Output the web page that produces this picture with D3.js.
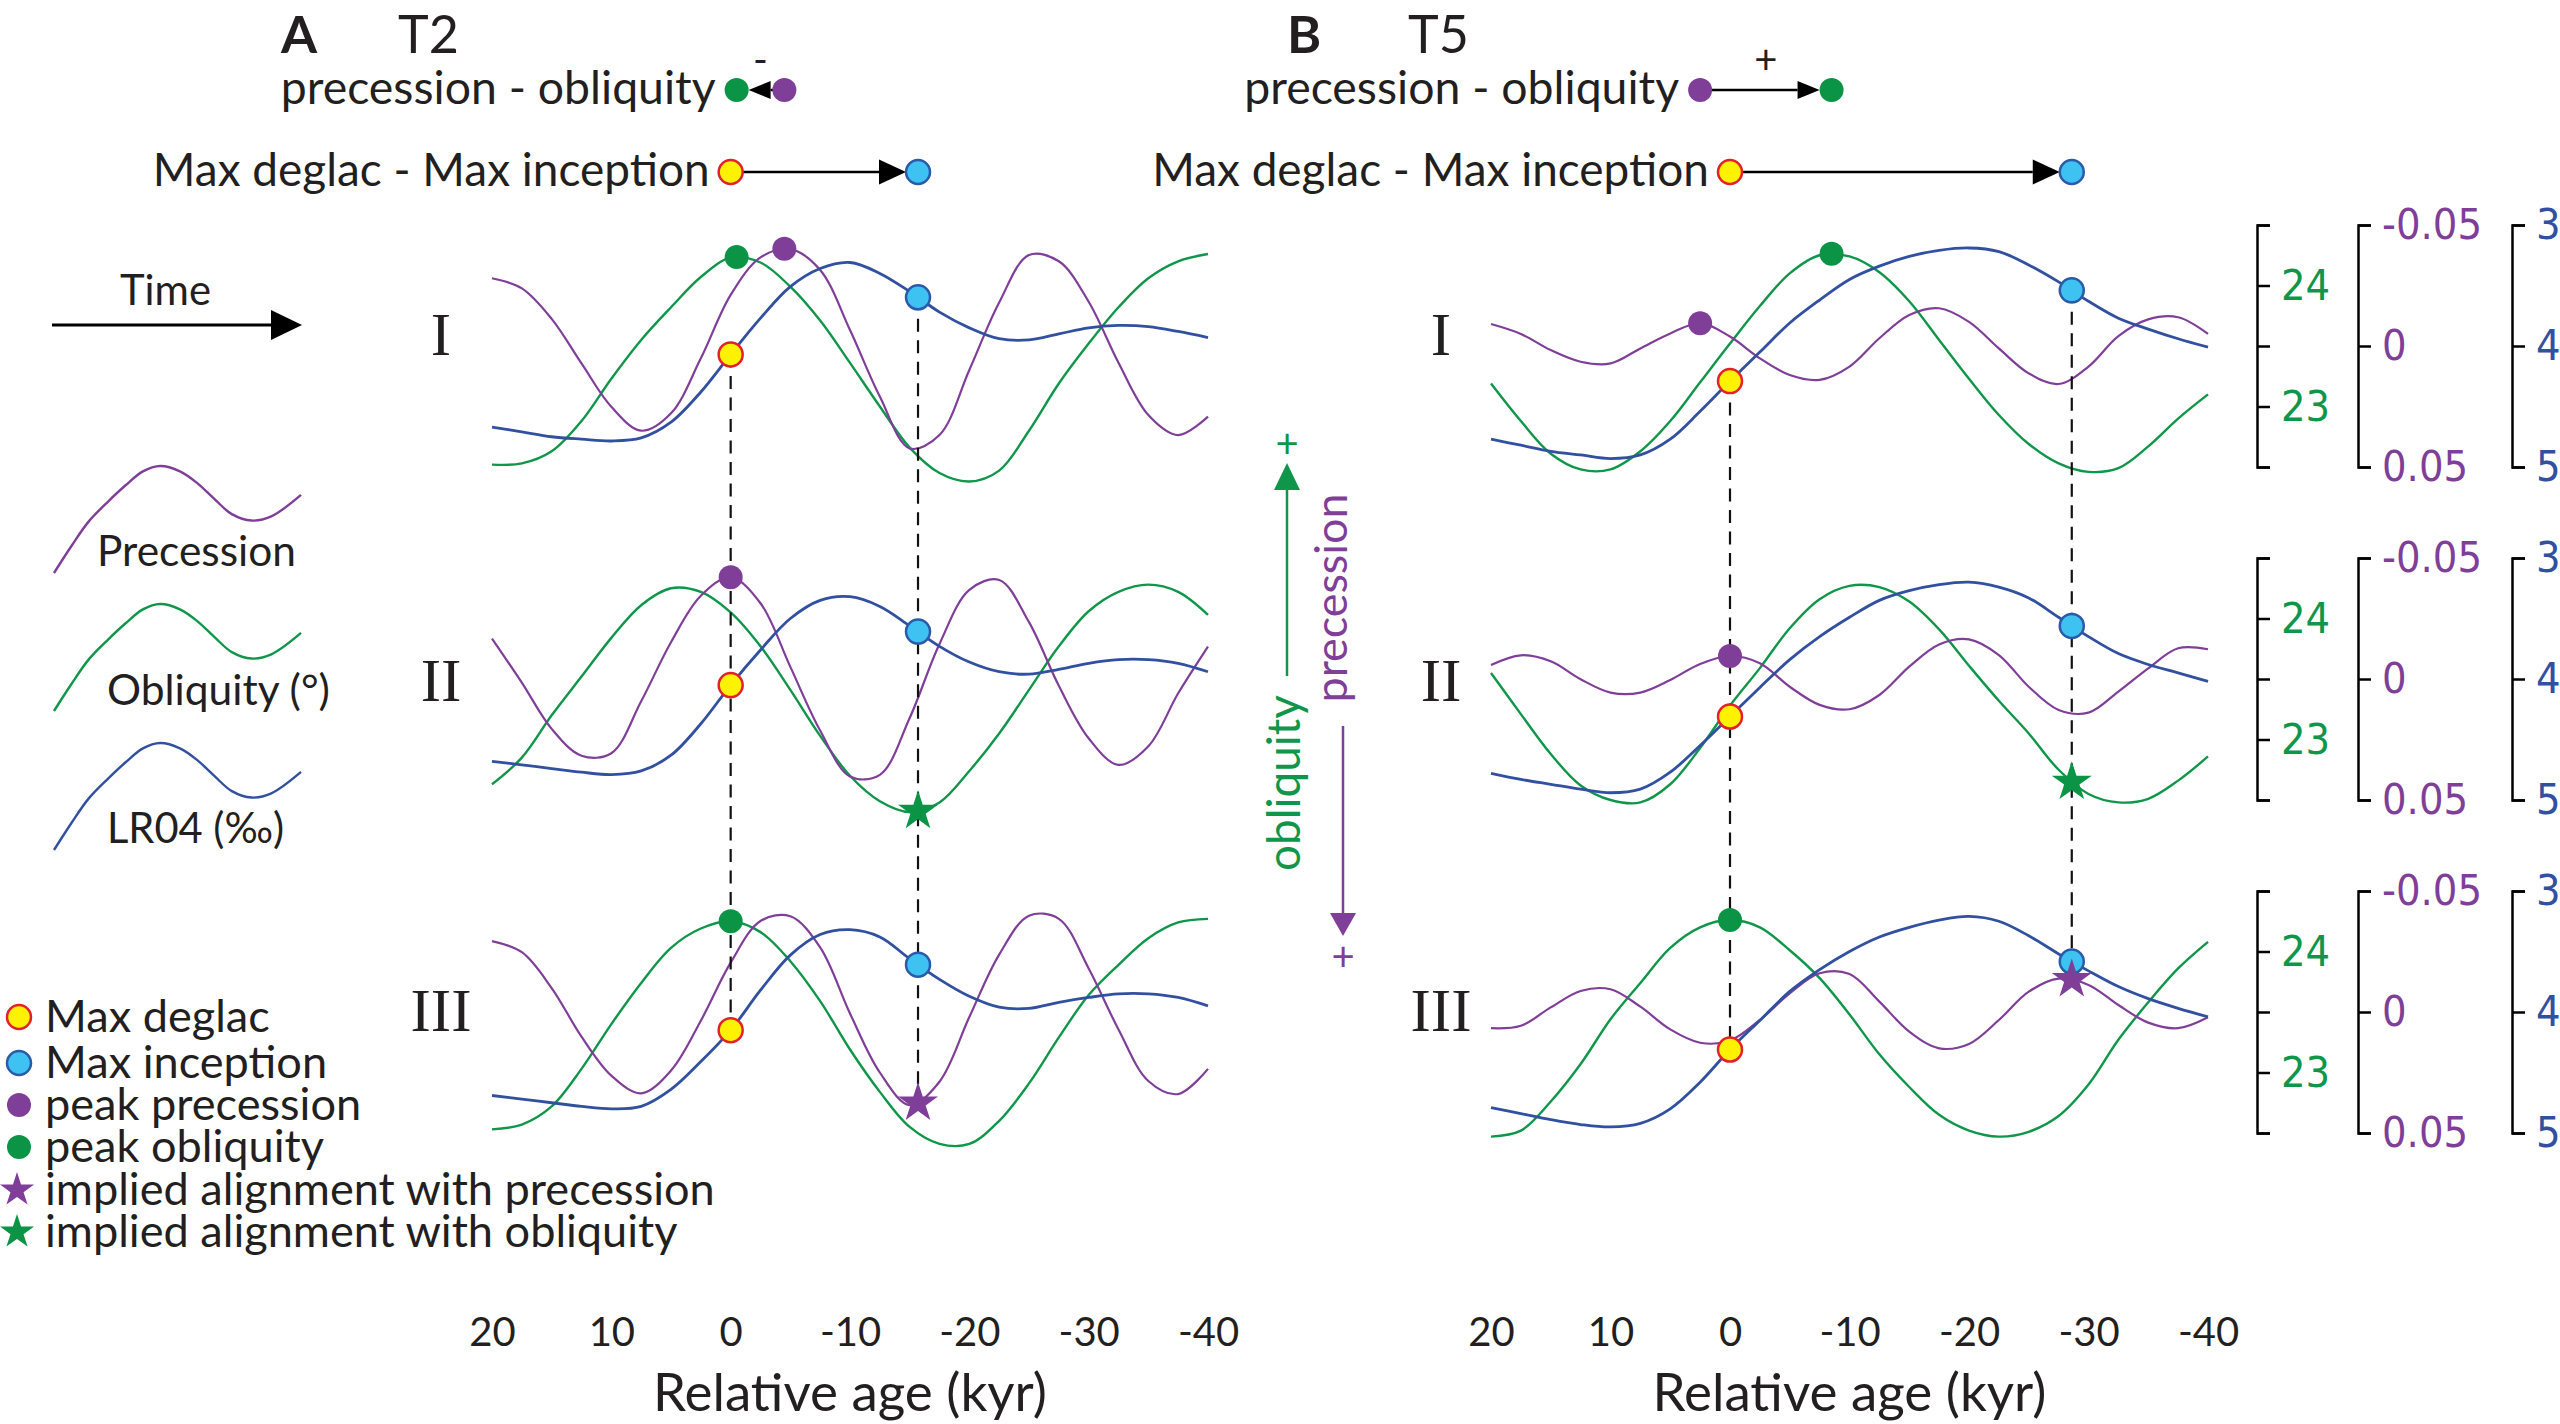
<!DOCTYPE html>
<html>
<head>
<meta charset="utf-8">
<script src="https://cdn.jsdelivr.net/npm/d3@7"></script>
<style>
body { margin: 0; background: #fff; }
text { font-family: Lato, 'Open Sans', sans-serif; fill: #231f20; }
</style>
</head>
<body>
<script>
// relative age grid (kyr), shared by every series
var kyr = [20, 17.5, 15, 12.5, 10, 7.5, 5, 2.5, 0, -2.5, -5, -7.5, -10, -12.5, -15, -17.5, -20, -22.5, -25, -27.5, -30, -32.5, -35, -37.5, -40];

// panel A (T2)
var precA1 = [-0.028, -0.0238, -0.0112, 0.0072, 0.0251, 0.035, 0.0278, 0.0051, -0.0211, -0.0366, -0.040, -0.0314, -0.0066, 0.0209, 0.0423, 0.0368, 0.0099, -0.018, -0.0376, -0.035, -0.0183, 0.0069, 0.0285, 0.0368, 0.0292];
var oblA1 = [22.52, 22.53, 22.63, 22.88, 23.23, 23.55, 23.82, 24.07, 24.23, 24.19, 23.99, 23.71, 23.36, 23.0, 22.66, 22.45, 22.38, 22.47, 22.8, 23.19, 23.52, 23.82, 24.06, 24.2, 24.26];
var lrA1 = [4.67, 4.71, 4.75, 4.77, 4.785, 4.76, 4.63, 4.38, 4.07, 3.77, 3.51, 3.36, 3.31, 3.40, 3.55, 3.72, 3.85, 3.94, 3.95, 3.90, 3.85, 3.83, 3.84, 3.88, 3.93];

var precA2 = [-0.0167, 0.0015, 0.0206, 0.0317, 0.0307, 0.0092, -0.0152, -0.0344, -0.042, -0.0313, -0.005, 0.0213, 0.0403, 0.0396, 0.0161, -0.0145, -0.0368, -0.0409, -0.0235, 0.0028, 0.0245, 0.0355, 0.0278, 0.0059, -0.0134];
var oblA2 = [22.63, 22.85, 23.2, 23.52, 23.84, 24.11, 24.25, 24.22, 24.05, 23.77, 23.41, 23.03, 22.7, 22.49, 22.4, 22.48, 22.74, 23.05, 23.41, 23.77, 24.06, 24.22, 24.28, 24.22, 24.03];
var lrA2 = [4.68, 4.71, 4.74, 4.77, 4.79, 4.76, 4.63, 4.37, 4.05, 3.76, 3.50, 3.35, 3.32, 3.40, 3.56, 3.73, 3.86, 3.94, 3.96, 3.92, 3.87, 3.84, 3.84, 3.87, 3.94];

var precA3 = [-0.0293, -0.0247, -0.0099, 0.0102, 0.0263, 0.0336, 0.0242, 0.0036, -0.0204, -0.0376, -0.0396, -0.0267, 0.0006, 0.025, 0.0385, 0.0288, 0.0021, -0.0237, -0.0398, -0.0385, -0.018, 0.0072, 0.0285, 0.0339, 0.0235];
var oblA3 = [22.53, 22.57, 22.72, 23.03, 23.4, 23.74, 24.03, 24.19, 24.25, 24.16, 23.92, 23.59, 23.19, 22.84, 22.55, 22.41, 22.41, 22.6, 22.91, 23.29, 23.64, 23.89, 24.11, 24.24, 24.27];
var lrA3 = [4.69, 4.72, 4.75, 4.78, 4.80, 4.78, 4.64, 4.41, 4.15, 3.82, 3.53, 3.36, 3.32, 3.38, 3.56, 3.73, 3.87, 3.96, 3.97, 3.92, 3.88, 3.85, 3.85, 3.88, 3.95];

// panel B (T5)
var precB1 = [-0.0091, -0.005, 0.0017, 0.0065, 0.0072, 0.001, -0.0052, -0.0094, -0.0039, 0.0051, 0.012, 0.014, 0.0085, -0.0032, -0.0128, -0.0156, -0.01, 0.001, 0.0113, 0.0157, 0.0085, -0.0041, -0.011, -0.0119, -0.005];
var oblB1 = [23.19, 22.88, 22.61, 22.48, 22.48, 22.63, 22.88, 23.2, 23.52, 23.83, 24.1, 24.25, 24.24, 24.11, 23.87, 23.55, 23.23, 22.93, 22.69, 22.53, 22.46, 22.49, 22.67, 22.9, 23.1];
var lrB1 = [4.77, 4.82, 4.87, 4.90, 4.93, 4.90, 4.77, 4.54, 4.29, 4.05, 3.81, 3.62, 3.45, 3.34, 3.26, 3.21, 3.19, 3.22, 3.33, 3.47, 3.63, 3.77, 3.86, 3.94, 4.01];

var precB2 = [-0.0058, -0.0098, -0.0073, 0.0001, 0.0056, 0.0056, 0.0004, -0.0062, -0.0095, -0.0065, 0.0032, 0.0107, 0.0125, 0.0066, -0.0051, -0.0143, -0.0164, -0.0099, 0.0032, 0.0128, 0.0139, 0.0052, -0.0044, -0.0127, -0.0123];
var oblB2 = [23.55, 23.21, 22.88, 22.62, 22.5, 22.48, 22.63, 22.93, 23.28, 23.59, 23.92, 24.16, 24.27, 24.26, 24.14, 23.91, 23.61, 23.32, 23.05, 22.75, 22.55, 22.48, 22.51, 22.66, 22.86];
var lrB2 = [4.78, 4.83, 4.87, 4.91, 4.94, 4.91, 4.77, 4.55, 4.31, 4.07, 3.84, 3.65, 3.49, 3.35, 3.27, 3.22, 3.20, 3.24, 3.33, 3.49, 3.65, 3.79, 3.88, 3.95, 4.02];

var precB3 = [0.0067, 0.0057, -0.0019, -0.0087, -0.0094, -0.0022, 0.0072, 0.0127, 0.0118, 0.0033, -0.0077, -0.016, -0.0157, -0.0043, 0.0081, 0.015, 0.0132, 0.0033, -0.0084, -0.0138, -0.0112, -0.0029, 0.0044, 0.0067, 0.0022];
var oblB3 = [22.47, 22.52, 22.76, 23.07, 23.44, 23.74, 24.03, 24.2, 24.26, 24.2, 24.01, 23.78, 23.48, 23.15, 22.88, 22.65, 22.52, 22.47, 22.51, 22.64, 22.9, 23.27, 23.58, 23.86, 24.08];
var lrB3 = [4.79, 4.84, 4.89, 4.93, 4.95, 4.92, 4.80, 4.58, 4.31, 4.07, 3.83, 3.65, 3.50, 3.38, 3.30, 3.24, 3.21, 3.25, 3.37, 3.52, 3.66, 3.79, 3.89, 3.97, 4.04];

// markers: row, age, kind
var markersA = [
    [0, -0.5, 'pkO'], [0, -4.5, 'pkP'], [0, 0, 'deg'], [0, -15.7, 'inc'],
    [1, 0, 'pkP'], [1, 0, 'deg'], [1, -15.7, 'inc'], [1, -15.7, 'stO'],
    [2, 0, 'pkO'], [2, 0, 'deg'], [2, -15.7, 'inc'], [2, -15.7, 'stP'],
];
var markersB = [
    [0, 2.5, 'pkP'], [0, -8.5, 'pkO'], [0, 0, 'deg'], [0, -28.6, 'inc'],
    [1, 0, 'pkP'], [1, 0, 'deg'], [1, -28.6, 'inc'], [1, -28.6, 'stO'],
    [2, 0, 'pkO'], [2, 0, 'deg'], [2, -28.6, 'inc'], [2, -28.6, 'stP'],
];

// header links: from age/kind -> to age/kind, sign
var headerA = [[-4.5, 'pkP', -0.5, 'pkO', '-'], [0, 'deg', -15.7, 'inc', '']];
var headerB = [[2.5, 'pkP', -8.5, 'pkO', '+'], [0, 'deg', -28.6, 'inc', '']];
var headerText = ['precession - obliquity', 'Max deglac - Max inception'];

var rowNames = ['I', 'II', 'III'];
var xTickVals = [20, 10, 0, -10, -20, -30, -40];
var xTickText = ['20', '10', '0', '-10', '-20', '-30', '-40'];
var oblTickVals = [22.5, 23, 23.5, 24, 24.5];
var oblTickText = ['', '23', '', '24', ''];
var precTickVals = [-0.05, 0, 0.05];
var precTickText = ['-0.05', '0', '0.05'];
var lrTickVals = [3, 4, 5];

var legendWaveX = [0, 0.07, 0.14, 0.22, 0.29, 0.36, 0.43, 0.51, 0.58, 0.65, 0.72, 0.80, 0.88, 1.0];
var legendWaveY = [1.0, 0.75, 0.52, 0.33, 0.18, 0.05, 0, 0.05, 0.16, 0.31, 0.45, 0.51, 0.47, 0.27];
var legendNames = ['Precession', 'Obliquity (°)', 'LR04 (‰)'];
var keyNames = ['Max deglac', 'Max inception', 'peak precession', 'peak obliquity', 'implied alignment with precession', 'implied alignment with obliquity'];
var keyKinds = ['deg', 'inc', 'pkP', 'pkO', 'stP', 'stO'];

var purple = '#7f3f98', green = '#10964a', blue = '#3150a0';
var kindStyle = {
    deg: { fill: '#fff200', stroke: '#e4202a', star: false },
    inc: { fill: '#3dc2f2', stroke: '#2a5aa8', star: false },
    pkP: { fill: '#7f3f98', stroke: 'none', star: false },
    pkO: { fill: '#0c9446', stroke: 'none', star: false },
    stP: { fill: '#7f3f98', stroke: 'none', star: true },
    stO: { fill: '#0c9446', stroke: 'none', star: true },
};

var rowMid = [346, 679, 1012], half = 121;

var panels = [
    { name: 'A', tag: 'T2', x0: 492, x1: 1208, nameX: 281, tagX: 398, rowX: 441,
      prec: [precA1, precA2, precA3], obl: [oblA1, oblA2, oblA3], lr: [lrA1, lrA2, lrA3],
      markers: markersA, header: headerA, axes: false },
    { name: 'B', tag: 'T5', x0: 1491, x1: 2208, nameX: 1287, tagX: 1408, rowX: 1441,
      prec: [precB1, precB2, precB3], obl: [oblB1, oblB2, oblB3], lr: [lrB1, lrB2, lrB3],
      markers: markersB, header: headerB, axes: true },
];

var svg = d3.select('body').append('svg')
    .attr('width', 2560)
    .attr('height', 1424)
    .style('background', '#fff');

function fit(sel, w) {
    var len = sel.node().getComputedTextLength();
    var fs = parseFloat(sel.attr('font-size'));
    sel.attr('font-size', fs * w / len);
    return sel;
}

function yOnPath(node, x) {
    var lo = 0, hi = node.getTotalLength();
    for (var i = 0; i < 40; i++) {
        var mid = (lo + hi) / 2;
        if (node.getPointAtLength(mid).x < x) lo = mid; else hi = mid;
    }
    return node.getPointAtLength(lo).y;
}

function drawMarker(g, kind, x, y, r) {
    var st = kindStyle[kind];
    if (st.star) {
        g.append('path')
            .attr('d', d3.symbol().type(d3.symbolStar).size(r * r / 0.8908)())
            .attr('transform', 'translate(' + x + ',' + y + ')')
            .attr('fill', st.fill);
    } else {
        g.append('circle')
            .attr('cx', x).attr('cy', y).attr('r', r)
            .attr('fill', st.fill)
            .attr('stroke', st.stroke)
            .attr('stroke-width', 2.5);
    }
}

function arrowHead(g, tipX, tipY, dx, dy, len, w, color) {
    // dx,dy unit direction of the arrow
    var bx = tipX - dx * len, by = tipY - dy * len;
    g.append('path')
        .attr('d', 'M' + tipX + ',' + tipY +
            'L' + (bx - dy * w) + ',' + (by + dx * w) +
            'L' + (bx + dy * w) + ',' + (by - dx * w) + 'Z')
        .attr('fill', color);
    return [bx, by];
}

panels.forEach(function (p) {
    var g = svg.append('g').attr('class', 'panel ' + p.name);
    var x = d3.scaleLinear().domain([20, -40]).range([p.x0, p.x1]);

    // title
    g.append('text').attr('x', p.nameX).attr('y', 53)
        .attr('font-size', 52).attr('font-weight', 'bold').text(p.name);
    g.append('text').attr('x', p.tagX).attr('y', 53)
        .attr('font-size', 52).text(p.tag);

    // header rows
    var hy = [90, 172], hLen = [22, 27], hW = [9, 12.5], hWidth = [435, 557];
    p.header.forEach(function (h, i) {
        var fx = x(h[0]), tx = x(h[2]);
        var dir = tx > fx ? 1 : -1;
        var base = arrowHead(g, tx - dir * 12, hy[i], dir, 0, hLen[i], hW[i], '#000');
        g.append('line')
            .attr('x1', fx).attr('x2', base[0])
            .attr('y1', hy[i]).attr('y2', hy[i])
            .attr('stroke', '#000').attr('stroke-width', 2.5);
        drawMarker(g, h[1], fx, hy[i], 12);
        drawMarker(g, h[3], tx, hy[i], 12);
        if (h[4])
            g.append('text').attr('x', (fx + tx) / 2).attr('y', hy[i] - 16)
                .attr('text-anchor', 'middle').attr('font-size', 40).text(h[4]);
        var t = g.append('text')
            .attr('x', Math.min(fx, tx) - 21).attr('y', hy[i] + 14)
            .attr('text-anchor', 'end').attr('font-size', 42).text(headerText[i]);
        fit(t, hWidth[i]);
    });

    var paths = [];
    rowMid.forEach(function (c, r) {
        var yP = d3.scaleLinear().domain([-0.05, 0.05]).range([c - half, c + half]);
        var yO = d3.scaleLinear().domain([24.5, 22.5]).range([c - half, c + half]);
        var yL = d3.scaleLinear().domain([3, 5]).range([c - half, c + half]);

        var line = function (ys) {
            return d3.line()
                .x(function (d, i) { return x(kyr[i]); })
                .y(function (d) { return ys(d); })
                .curve(d3.curveCatmullRom.alpha(0.5));
        };

        var pO = g.append('path').datum(p.obl[r]).attr('d', line(yO))
            .attr('fill', 'none').attr('stroke', green).attr('stroke-width', 2.4);
        var pP = g.append('path').datum(p.prec[r]).attr('d', line(yP))
            .attr('fill', 'none').attr('stroke', purple).attr('stroke-width', 2.2);
        var pL = g.append('path').datum(p.lr[r]).attr('d', line(yL))
            .attr('fill', 'none').attr('stroke', blue).attr('stroke-width', 2.8);
        paths.push({ p: pP.node(), o: pO.node(), l: pL.node() });

        g.append('text').attr('x', p.rowX).attr('y', [355, 701, 1031][r])
            .attr('text-anchor', 'middle')
            .style('font-family', "'Liberation Serif', 'Times New Roman', serif")
            .attr('font-size', 61).text(rowNames[r]);

        if (p.axes) {
            var axes = [
                [2257, d3.axisRight(yO).tickValues(oblTickVals).tickFormat(function (d, i) { return oblTickText[i]; }), green],
                [2358, d3.axisRight(yP).tickValues(precTickVals).tickFormat(function (d, i) { return precTickText[i]; }), purple],
                [2512, d3.axisRight(yL).tickValues(lrTickVals).tickFormat(d3.format('d')), blue],
            ];
            axes.forEach(function (a) {
                var ag = g.append('g')
                    .attr('transform', 'translate(' + a[0] + ',0)')
                    .call(a[1].tickSize(13).tickPadding(11));
                ag.attr('font-size', 43).attr('font-family', null);
                ag.select('.domain').attr('stroke-width', 2.5);
                ag.selectAll('.tick line').attr('stroke-width', 2.5);
                ag.selectAll('.tick text')
                    .style('font-family', "'DejaVu Sans', Verdana, sans-serif")
                    .style('font-stretch', 'condensed')
                    .style('fill', a[2]);
            });
        }
    });

    // marker positions on the drawn curves
    var pos = p.markers.map(function (m) {
        var key = m[2] === 'pkP' || m[2] === 'stP' ? 'p' : (m[2] === 'pkO' || m[2] === 'stO' ? 'o' : 'l');
        var mx = x(m[1]);
        return { kind: m[2], age: m[1], x: mx, y: yOnPath(paths[m[0]][key], mx) };
    });

    // dashed guides through the deglac / inception ages
    var ages = d3.group(pos.filter(function (d) { return d.kind === 'deg' || d.kind === 'inc'; }), function (d) { return d.age; });
    ages.forEach(function (v, age) {
        var all = pos.filter(function (d) { return d.age === age; });
        g.append('line')
            .attr('x1', x(age)).attr('x2', x(age))
            .attr('y1', d3.min(all, function (d) { return d.y; }))
            .attr('y2', d3.max(all, function (d) { return d.y; }))
            .attr('stroke', '#111').attr('stroke-width', 2.2)
            .attr('stroke-dasharray', '13,8.5');
    });

    pos.filter(function (d) { return !kindStyle[d.kind].star; })
        .forEach(function (d) { drawMarker(g, d.kind, d.x, d.y, 12); });
    pos.filter(function (d) { return kindStyle[d.kind].star; })
        .forEach(function (d) { drawMarker(g, d.kind, d.x, d.y, 21); });

    // bottom axis
    var xa = g.append('g')
        .attr('transform', 'translate(0,1318)')
        .call(d3.axisBottom(x).tickValues(xTickVals)
            .tickFormat(function (d, i) { return xTickText[i]; })
            .tickSize(0).tickPadding(0));
    xa.select('.domain').remove();
    xa.attr('font-size', 40).attr('font-family', null);
    xa.selectAll('text').style('fill', '#231f20');

    var t = g.append('text').attr('x', (p.x0 + p.x1) / 2).attr('y', 1411)
        .attr('text-anchor', 'middle').attr('font-size', 44).text('Relative age (kyr)');
    fit(t, 394);
});

// time arrow
var lg = svg.append('g').attr('class', 'legend');
fit(lg.append('text').attr('x', 120).attr('y', 305).attr('font-size', 42).text('Time'), 91);
var tb = arrowHead(lg, 302, 325, 1, 0, 31, 15, '#000');
lg.append('line').attr('x1', 52).attr('x2', tb[0]).attr('y1', 325).attr('y2', 325)
    .attr('stroke', '#000').attr('stroke-width', 3);

// curve legend
var lx = d3.scaleLinear().domain([0, 1]).range([54, 301]);
var wavePeak = [466, 604, 743], waveCol = [purple, green, blue];
var waveTextX = [97, 107, 107], waveTextY = [566, 705, 843], waveTextW = [199, 223, 177];
legendNames.forEach(function (n, i) {
    var ly = d3.scaleLinear().domain([0, 1]).range([wavePeak[i], wavePeak[i] + 107]);
    lg.append('path').datum(legendWaveY)
        .attr('d', d3.line()
            .x(function (d, j) { return lx(legendWaveX[j]); })
            .y(function (d) { return ly(d); })
            .curve(d3.curveCatmullRom.alpha(0.5)))
        .attr('fill', 'none').attr('stroke', waveCol[i]).attr('stroke-width', 2.4);
    fit(lg.append('text').attr('x', waveTextX[i]).attr('y', waveTextY[i])
        .attr('font-size', 42).text(n), waveTextW[i]);
});

// symbol key, one text block with a line per entry
var keyY = [1032, 1078, 1120, 1162, 1205, 1247];
keyKinds.forEach(function (k, i) {
    drawMarker(lg, k, i < 4 ? 19 : 17, keyY[i] - 15, i < 4 ? 12 : 18);
});
var key = lg.append('text').attr('font-size', 42);
var spans = key.selectAll('tspan').data(keyNames).enter().append('tspan')
    .attr('x', 45)
    .attr('y', function (d, i) { return keyY[i]; })
    .text(function (d) { return d; });
var longest = spans.nodes()[4].getComputedTextLength();
key.attr('font-size', 42 * 670 / longest);

// orbital direction arrows in the middle
var mg = svg.append('g').attr('class', 'direction');
var gb = arrowHead(mg, 1287, 463, 0, -1, 27, 13, green);
mg.append('line').attr('x1', 1287).attr('x2', 1287).attr('y1', 676).attr('y2', gb[1])
    .attr('stroke', green).attr('stroke-width', 2.5);
mg.append('text').attr('x', 1287).attr('y', 458).attr('text-anchor', 'middle')
    .attr('font-size', 40).style('fill', green).text('+');
fit(mg.append('text').attr('transform', 'translate(1300,783) rotate(-90)')
    .attr('text-anchor', 'middle').attr('font-size', 46).style('fill', green).text('obliquity'), 176);

var pb = arrowHead(mg, 1343, 936, 0, 1, 23, 13, purple);
mg.append('line').attr('x1', 1343).attr('x2', 1343).attr('y1', 726).attr('y2', pb[1])
    .attr('stroke', purple).attr('stroke-width', 2.5);
mg.append('text').attr('x', 1343).attr('y', 971).attr('text-anchor', 'middle')
    .attr('font-size', 40).style('fill', purple).text('+');
fit(mg.append('text').attr('transform', 'translate(1347,598) rotate(-90)')
    .attr('text-anchor', 'middle').attr('font-size', 46).style('fill', purple).text('precession'), 209);
</script>
</body>
</html>
